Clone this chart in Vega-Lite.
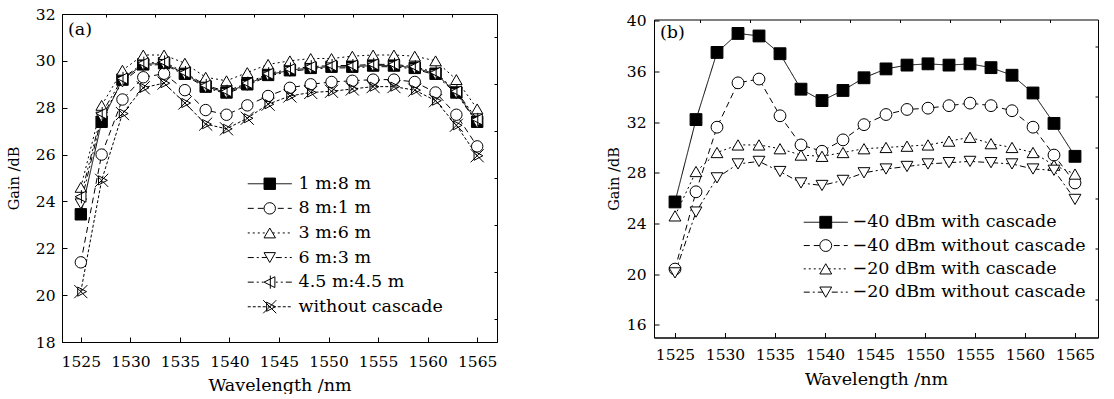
{
  "$schema": "https://vega.github.io/schema/vega-lite/v6.json",
  "padding": {"left": 5, "top": 6, "right": 5, "bottom": 0},
  "background": "white",
  "config": {
    "font": "DejaVu Serif",
    "view": {"stroke": "black", "strokeWidth": 1},
    "axis": {
      "labelFont": "DejaVu Serif", "labelFontSize": 15.5, "labelColor": "black",
      "titleFont": "DejaVu Serif", "titleFontWeight": "normal", "titleColor": "black",
      "domainColor": "black", "tickColor": "black", "grid": false,
      "tickSize": -5, "labelFlush": false, "labelOverlap": false
    },
    "legend": {
      "labelFont": "DejaVu Serif", "labelFontSize": 17.5, "labelColor": "black", "labelLimit": 400,
      "padding": 0, "symbolStrokeColor": "black", "symbolStrokeWidth": 1
    }
  },
  "datasets": {
    "a": [
      {"s":"1 m:8 m","i":1,"w":1525,"g":23.45},{"s":"1 m:8 m","i":1,"w":1527.1,"g":27.4},{"s":"1 m:8 m","i":1,"w":1529.2,"g":29.2},{"s":"1 m:8 m","i":1,"w":1531.3,"g":29.85},{"s":"1 m:8 m","i":1,"w":1533.4,"g":29.9},{"s":"1 m:8 m","i":1,"w":1535.5,"g":29.45},{"s":"1 m:8 m","i":1,"w":1537.6,"g":28.9},{"s":"1 m:8 m","i":1,"w":1539.7,"g":28.65},{"s":"1 m:8 m","i":1,"w":1541.8,"g":29.0},{"s":"1 m:8 m","i":1,"w":1543.9,"g":29.4},{"s":"1 m:8 m","i":1,"w":1546.1,"g":29.6},{"s":"1 m:8 m","i":1,"w":1548.2,"g":29.7},{"s":"1 m:8 m","i":1,"w":1550.3,"g":29.75},{"s":"1 m:8 m","i":1,"w":1552.4,"g":29.75},{"s":"1 m:8 m","i":1,"w":1554.5,"g":29.8},{"s":"1 m:8 m","i":1,"w":1556.6,"g":29.8},{"s":"1 m:8 m","i":1,"w":1558.7,"g":29.7},{"s":"1 m:8 m","i":1,"w":1560.8,"g":29.45},{"s":"1 m:8 m","i":1,"w":1562.9,"g":28.65},{"s":"1 m:8 m","i":1,"w":1565,"g":27.4},
      {"s":"8 m:1 m","i":2,"w":1525,"g":21.4},{"s":"8 m:1 m","i":2,"w":1527.1,"g":26.0},{"s":"8 m:1 m","i":2,"w":1529.2,"g":28.35},{"s":"8 m:1 m","i":2,"w":1531.3,"g":29.3},{"s":"8 m:1 m","i":2,"w":1533.4,"g":29.45},{"s":"8 m:1 m","i":2,"w":1535.5,"g":28.75},{"s":"8 m:1 m","i":2,"w":1537.6,"g":27.9},{"s":"8 m:1 m","i":2,"w":1539.7,"g":27.7},{"s":"8 m:1 m","i":2,"w":1541.8,"g":28.1},{"s":"8 m:1 m","i":2,"w":1543.9,"g":28.5},{"s":"8 m:1 m","i":2,"w":1546.1,"g":28.85},{"s":"8 m:1 m","i":2,"w":1548.2,"g":29.0},{"s":"8 m:1 m","i":2,"w":1550.3,"g":29.1},{"s":"8 m:1 m","i":2,"w":1552.4,"g":29.15},{"s":"8 m:1 m","i":2,"w":1554.5,"g":29.2},{"s":"8 m:1 m","i":2,"w":1556.6,"g":29.2},{"s":"8 m:1 m","i":2,"w":1558.7,"g":29.1},{"s":"8 m:1 m","i":2,"w":1560.8,"g":28.65},{"s":"8 m:1 m","i":2,"w":1562.9,"g":27.7},{"s":"8 m:1 m","i":2,"w":1565,"g":26.35},
      {"s":"3 m:6 m","i":3,"w":1525,"g":24.6},{"s":"3 m:6 m","i":3,"w":1527.1,"g":28.1},{"s":"3 m:6 m","i":3,"w":1529.2,"g":29.6},{"s":"3 m:6 m","i":3,"w":1531.3,"g":30.25},{"s":"3 m:6 m","i":3,"w":1533.4,"g":30.25},{"s":"3 m:6 m","i":3,"w":1535.5,"g":29.9},{"s":"3 m:6 m","i":3,"w":1537.6,"g":29.3},{"s":"3 m:6 m","i":3,"w":1539.7,"g":29.15},{"s":"3 m:6 m","i":3,"w":1541.8,"g":29.5},{"s":"3 m:6 m","i":3,"w":1543.9,"g":29.85},{"s":"3 m:6 m","i":3,"w":1546.1,"g":30.0},{"s":"3 m:6 m","i":3,"w":1548.2,"g":30.1},{"s":"3 m:6 m","i":3,"w":1550.3,"g":30.1},{"s":"3 m:6 m","i":3,"w":1552.4,"g":30.2},{"s":"3 m:6 m","i":3,"w":1554.5,"g":30.25},{"s":"3 m:6 m","i":3,"w":1556.6,"g":30.25},{"s":"3 m:6 m","i":3,"w":1558.7,"g":30.2},{"s":"3 m:6 m","i":3,"w":1560.8,"g":30.0},{"s":"3 m:6 m","i":3,"w":1562.9,"g":29.2},{"s":"3 m:6 m","i":3,"w":1565,"g":27.95},
      {"s":"6 m:3 m","i":4,"w":1525,"g":23.9},{"s":"6 m:3 m","i":4,"w":1527.1,"g":27.6},{"s":"6 m:3 m","i":4,"w":1529.2,"g":29.1},{"s":"6 m:3 m","i":4,"w":1531.3,"g":29.8},{"s":"6 m:3 m","i":4,"w":1533.4,"g":29.85},{"s":"6 m:3 m","i":4,"w":1535.5,"g":29.4},{"s":"6 m:3 m","i":4,"w":1537.6,"g":28.85},{"s":"6 m:3 m","i":4,"w":1539.7,"g":28.6},{"s":"6 m:3 m","i":4,"w":1541.8,"g":28.95},{"s":"6 m:3 m","i":4,"w":1543.9,"g":29.35},{"s":"6 m:3 m","i":4,"w":1546.1,"g":29.55},{"s":"6 m:3 m","i":4,"w":1548.2,"g":29.65},{"s":"6 m:3 m","i":4,"w":1550.3,"g":29.7},{"s":"6 m:3 m","i":4,"w":1552.4,"g":29.7},{"s":"6 m:3 m","i":4,"w":1554.5,"g":29.75},{"s":"6 m:3 m","i":4,"w":1556.6,"g":29.75},{"s":"6 m:3 m","i":4,"w":1558.7,"g":29.65},{"s":"6 m:3 m","i":4,"w":1560.8,"g":29.4},{"s":"6 m:3 m","i":4,"w":1562.9,"g":28.6},{"s":"6 m:3 m","i":4,"w":1565,"g":27.35},
      {"s":"4.5 m:4.5 m","i":5,"w":1525,"g":24.2},{"s":"4.5 m:4.5 m","i":5,"w":1527.1,"g":27.75},{"s":"4.5 m:4.5 m","i":5,"w":1529.2,"g":29.25},{"s":"4.5 m:4.5 m","i":5,"w":1531.3,"g":29.9},{"s":"4.5 m:4.5 m","i":5,"w":1533.4,"g":29.95},{"s":"4.5 m:4.5 m","i":5,"w":1535.5,"g":29.5},{"s":"4.5 m:4.5 m","i":5,"w":1537.6,"g":28.95},{"s":"4.5 m:4.5 m","i":5,"w":1539.7,"g":28.7},{"s":"4.5 m:4.5 m","i":5,"w":1541.8,"g":29.05},{"s":"4.5 m:4.5 m","i":5,"w":1543.9,"g":29.45},{"s":"4.5 m:4.5 m","i":5,"w":1546.1,"g":29.65},{"s":"4.5 m:4.5 m","i":5,"w":1548.2,"g":29.75},{"s":"4.5 m:4.5 m","i":5,"w":1550.3,"g":29.8},{"s":"4.5 m:4.5 m","i":5,"w":1552.4,"g":29.8},{"s":"4.5 m:4.5 m","i":5,"w":1554.5,"g":29.85},{"s":"4.5 m:4.5 m","i":5,"w":1556.6,"g":29.85},{"s":"4.5 m:4.5 m","i":5,"w":1558.7,"g":29.75},{"s":"4.5 m:4.5 m","i":5,"w":1560.8,"g":29.5},{"s":"4.5 m:4.5 m","i":5,"w":1562.9,"g":28.7},{"s":"4.5 m:4.5 m","i":5,"w":1565,"g":27.5},
      {"s":"without cascade","i":6,"w":1525,"g":20.15},{"s":"without cascade","i":6,"w":1527.1,"g":24.9},{"s":"without cascade","i":6,"w":1529.2,"g":27.75},{"s":"without cascade","i":6,"w":1531.3,"g":28.85},{"s":"without cascade","i":6,"w":1533.4,"g":29.05},{"s":"without cascade","i":6,"w":1535.5,"g":28.2},{"s":"without cascade","i":6,"w":1537.6,"g":27.3},{"s":"without cascade","i":6,"w":1539.7,"g":27.1},{"s":"without cascade","i":6,"w":1541.8,"g":27.55},{"s":"without cascade","i":6,"w":1543.9,"g":28.15},{"s":"without cascade","i":6,"w":1546.1,"g":28.5},{"s":"without cascade","i":6,"w":1548.2,"g":28.65},{"s":"without cascade","i":6,"w":1550.3,"g":28.7},{"s":"without cascade","i":6,"w":1552.4,"g":28.8},{"s":"without cascade","i":6,"w":1554.5,"g":28.9},{"s":"without cascade","i":6,"w":1556.6,"g":28.9},{"s":"without cascade","i":6,"w":1558.7,"g":28.75},{"s":"without cascade","i":6,"w":1560.8,"g":28.3},{"s":"without cascade","i":6,"w":1562.9,"g":27.25},{"s":"without cascade","i":6,"w":1565,"g":25.95}
    ],
    "b": [
      {"s":"−40 dBm with cascade","i":1,"w":1525,"g":25.7},{"s":"−40 dBm with cascade","i":1,"w":1527.1,"g":32.2},{"s":"−40 dBm with cascade","i":1,"w":1529.2,"g":37.5},{"s":"−40 dBm with cascade","i":1,"w":1531.3,"g":39.0},{"s":"−40 dBm with cascade","i":1,"w":1533.4,"g":38.8},{"s":"−40 dBm with cascade","i":1,"w":1535.5,"g":37.4},{"s":"−40 dBm with cascade","i":1,"w":1537.6,"g":34.6},{"s":"−40 dBm with cascade","i":1,"w":1539.7,"g":33.7},{"s":"−40 dBm with cascade","i":1,"w":1541.8,"g":34.5},{"s":"−40 dBm with cascade","i":1,"w":1543.9,"g":35.5},{"s":"−40 dBm with cascade","i":1,"w":1546.1,"g":36.2},{"s":"−40 dBm with cascade","i":1,"w":1548.2,"g":36.5},{"s":"−40 dBm with cascade","i":1,"w":1550.3,"g":36.6},{"s":"−40 dBm with cascade","i":1,"w":1552.4,"g":36.5},{"s":"−40 dBm with cascade","i":1,"w":1554.5,"g":36.6},{"s":"−40 dBm with cascade","i":1,"w":1556.6,"g":36.3},{"s":"−40 dBm with cascade","i":1,"w":1558.7,"g":35.7},{"s":"−40 dBm with cascade","i":1,"w":1560.8,"g":34.3},{"s":"−40 dBm with cascade","i":1,"w":1562.9,"g":31.9},{"s":"−40 dBm with cascade","i":1,"w":1565,"g":29.3},
      {"s":"−40 dBm without cascade","i":2,"w":1525,"g":20.4},{"s":"−40 dBm without cascade","i":2,"w":1527.1,"g":26.5},{"s":"−40 dBm without cascade","i":2,"w":1529.2,"g":31.6},{"s":"−40 dBm without cascade","i":2,"w":1531.3,"g":35.1},{"s":"−40 dBm without cascade","i":2,"w":1533.4,"g":35.4},{"s":"−40 dBm without cascade","i":2,"w":1535.5,"g":32.5},{"s":"−40 dBm without cascade","i":2,"w":1537.6,"g":30.2},{"s":"−40 dBm without cascade","i":2,"w":1539.7,"g":29.7},{"s":"−40 dBm without cascade","i":2,"w":1541.8,"g":30.6},{"s":"−40 dBm without cascade","i":2,"w":1543.9,"g":31.8},{"s":"−40 dBm without cascade","i":2,"w":1546.1,"g":32.6},{"s":"−40 dBm without cascade","i":2,"w":1548.2,"g":33.0},{"s":"−40 dBm without cascade","i":2,"w":1550.3,"g":33.1},{"s":"−40 dBm without cascade","i":2,"w":1552.4,"g":33.3},{"s":"−40 dBm without cascade","i":2,"w":1554.5,"g":33.5},{"s":"−40 dBm without cascade","i":2,"w":1556.6,"g":33.3},{"s":"−40 dBm without cascade","i":2,"w":1558.7,"g":32.9},{"s":"−40 dBm without cascade","i":2,"w":1560.8,"g":31.6},{"s":"−40 dBm without cascade","i":2,"w":1562.9,"g":29.4},{"s":"−40 dBm without cascade","i":2,"w":1565,"g":27.2},
      {"s":"−20 dBm with cascade","i":3,"w":1525,"g":24.6},{"s":"−20 dBm with cascade","i":3,"w":1527.1,"g":28.1},{"s":"−20 dBm with cascade","i":3,"w":1529.2,"g":29.6},{"s":"−20 dBm with cascade","i":3,"w":1531.3,"g":30.2},{"s":"−20 dBm with cascade","i":3,"w":1533.4,"g":30.2},{"s":"−20 dBm with cascade","i":3,"w":1535.5,"g":29.9},{"s":"−20 dBm with cascade","i":3,"w":1537.6,"g":29.4},{"s":"−20 dBm with cascade","i":3,"w":1539.7,"g":29.3},{"s":"−20 dBm with cascade","i":3,"w":1541.8,"g":29.6},{"s":"−20 dBm with cascade","i":3,"w":1543.9,"g":29.9},{"s":"−20 dBm with cascade","i":3,"w":1546.1,"g":30.0},{"s":"−20 dBm with cascade","i":3,"w":1548.2,"g":30.1},{"s":"−20 dBm with cascade","i":3,"w":1550.3,"g":30.2},{"s":"−20 dBm with cascade","i":3,"w":1552.4,"g":30.5},{"s":"−20 dBm with cascade","i":3,"w":1554.5,"g":30.8},{"s":"−20 dBm with cascade","i":3,"w":1556.6,"g":30.3},{"s":"−20 dBm with cascade","i":3,"w":1558.7,"g":30.0},{"s":"−20 dBm with cascade","i":3,"w":1560.8,"g":29.6},{"s":"−20 dBm with cascade","i":3,"w":1562.9,"g":28.6},{"s":"−20 dBm with cascade","i":3,"w":1565,"g":27.9},
      {"s":"−20 dBm without cascade","i":4,"w":1525,"g":20.1},{"s":"−20 dBm without cascade","i":4,"w":1527.1,"g":24.9},{"s":"−20 dBm without cascade","i":4,"w":1529.2,"g":27.6},{"s":"−20 dBm without cascade","i":4,"w":1531.3,"g":28.7},{"s":"−20 dBm without cascade","i":4,"w":1533.4,"g":28.9},{"s":"−20 dBm without cascade","i":4,"w":1535.5,"g":28.1},{"s":"−20 dBm without cascade","i":4,"w":1537.6,"g":27.2},{"s":"−20 dBm without cascade","i":4,"w":1539.7,"g":27.0},{"s":"−20 dBm without cascade","i":4,"w":1541.8,"g":27.4},{"s":"−20 dBm without cascade","i":4,"w":1543.9,"g":28.0},{"s":"−20 dBm without cascade","i":4,"w":1546.1,"g":28.3},{"s":"−20 dBm without cascade","i":4,"w":1548.2,"g":28.5},{"s":"−20 dBm without cascade","i":4,"w":1550.3,"g":28.7},{"s":"−20 dBm without cascade","i":4,"w":1552.4,"g":28.8},{"s":"−20 dBm without cascade","i":4,"w":1554.5,"g":28.9},{"s":"−20 dBm without cascade","i":4,"w":1556.6,"g":28.8},{"s":"−20 dBm without cascade","i":4,"w":1558.7,"g":28.7},{"s":"−20 dBm without cascade","i":4,"w":1560.8,"g":28.3},{"s":"−20 dBm without cascade","i":4,"w":1562.9,"g":28.2},{"s":"−20 dBm without cascade","i":4,"w":1565,"g":25.9}
    ]
  },
  "spacing": 107,
  "center": true,
  "resolve": {
    "scale": {"strokeDash": "independent", "shape": "independent", "fill": "independent"},
    "legend": {"strokeDash": "independent", "shape": "independent", "fill": "independent"}
  },
  "hconcat": [
    {
      "width": 435, "height": 328,
      "data": {"name": "a"},
      "title": {"text": "(a)", "orient": "top", "anchor": "start", "frame": "group", "offset": -45, "dx": 6, "baseline": "alphabetic", "font": "DejaVu Serif", "fontSize": 17.5, "fontWeight": "normal", "color": "black"},
      "layer": [
        {
          "mark": {"type": "line", "color": "black", "strokeWidth": 1},
          "encoding": {
            "x": {"field": "w", "type": "quantitative", "scale": {"domain": [1523.1, 1567], "nice": false, "zero": false},
                  "axis": {"values": [1525,1530,1535,1540,1545,1550,1555,1560,1565], "format": "d", "labelPadding": 17, "title": "Wavelength /nm", "titleFontSize": 17.5, "titleY": 34, "titleBaseline": "top"}},
            "y": {"field": "g", "type": "quantitative", "scale": {"domain": [18, 32], "nice": false, "zero": false},
                  "axis": {"values": [18,20,22,24,26,28,30,32], "labelPadding": 12, "title": "Gain /dB", "titleFontSize": 14.5, "titlePadding": 14}},
            "strokeDash": {"field": "s", "type": "nominal",
              "scale": {"domain": ["1 m:8 m","8 m:1 m","3 m:6 m","6 m:3 m","4.5 m:4.5 m","without cascade"],
                        "range": [[1,0],[6,4],[2,3],[6,3,2,3],[6,3,2,3,2,3],[3,2]]},
              "legend": {"title": null, "orient": "none", "legendX": 199, "legendY": 161, "rowPadding": 5.6, "symbolType": "M-4,0H4", "symbolSize": 121, "symbolOffset": 0, "labelOffset": 20, "zindex": 0, "symbolFillColor": "transparent"}}
          }
        },
        {
          "mark": {"type": "point", "filled": true, "stroke": "black", "strokeWidth": 1, "opacity": 1, "size": 130},
          "encoding": {
            "x": {"field": "w", "type": "quantitative",
                  "axis": {"values": [1527.5,1532.5,1537.5,1542.5,1547.5,1552.5,1557.5,1562.5], "labels": false, "domain": false, "tickSize": -3, "title": null}},
            "y": {"field": "g", "type": "quantitative",
                  "axis": {"values": [19,21,23,25,27,29,31], "labels": false, "domain": false, "tickSize": -3, "title": null}},
            "shape": {"field": "s", "type": "nominal", "sort": {"field": "i", "op": "min"},
              "scale": {"range": ["square","circle","triangle-up","triangle-down","M-1,0L0.9,-0.95L0.9,0.95Z M0.1,-1.15L0.1,1.15","M-1.15,-1.15L1.15,1.15M-1.15,1.15L1.15,-1.15M-0.55,-0.8L1,0L-0.55,0.8Z"]},
              "legend": {"title": null, "orient": "none", "legendX": 199, "legendY": 161, "rowPadding": 5.6, "symbolSize": 130, "symbolOffset": 0, "labelOffset": 20, "labelOpacity": 0, "zindex": 1,
                         "symbolStrokeColor": "black", "symbolStrokeWidth": 1,
                         "encoding": {"symbols": {"stroke": {"value": "black"}, "strokeWidth": {"value": 1}, "opacity": {"value": 1}}}}},
            "fill": {"field": "s", "type": "nominal", "sort": {"field": "i", "op": "min"},
              "scale": {"range": ["black","white","white","white","white","transparent"]},
              "legend": {"title": null, "orient": "none", "legendX": 199, "legendY": 161, "rowPadding": 5.6, "symbolSize": 130, "symbolOffset": 0, "labelOffset": 20, "labelOpacity": 0, "zindex": 1,
                         "symbolStrokeColor": "black", "symbolStrokeWidth": 1,
                         "encoding": {"symbols": {"stroke": {"value": "black"}, "strokeWidth": {"value": 1}, "opacity": {"value": 1}}}}}
          }
        }
      ],
      "resolve": {"axis": {"x": "independent", "y": "independent"}}
    },
    {
      "width": 444, "height": 318,
      "data": {"name": "b"},
      "title": {"text": "(b)", "orient": "top", "anchor": "start", "frame": "group", "offset": -42, "dx": 6, "baseline": "alphabetic", "font": "DejaVu Serif", "fontSize": 17.5, "fontWeight": "normal", "color": "black"},
      "layer": [
        {
          "mark": {"type": "line", "color": "black", "strokeWidth": 1},
          "encoding": {
            "x": {"field": "w", "type": "quantitative", "scale": {"domain": [1522.9, 1567.3], "nice": false, "zero": false},
                  "axis": {"values": [1525,1530,1535,1540,1545,1550,1555,1560,1565], "format": "d", "labelPadding": 15, "title": "Wavelength /nm", "titleFontSize": 17.5, "titleY": 33, "titleBaseline": "top"}},
            "y": {"field": "g", "type": "quantitative", "scale": {"domain": [15, 40.1], "nice": false, "zero": false},
                  "axis": {"values": [16,20,24,28,32,36,40], "labelPadding": 13, "title": "Gain /dB", "titleFontSize": 14.5, "titlePadding": 5}},
            "strokeDash": {"field": "s", "type": "nominal",
              "scale": {"domain": ["−40 dBm with cascade","−40 dBm without cascade","−20 dBm with cascade","−20 dBm without cascade"],
                        "range": [[1,0],[6,4],[2,3],[6,3,2,3]]},
              "legend": {"title": null, "orient": "none", "legendX": 163, "legendY": 194, "rowPadding": 4.3, "symbolType": "M-4,0H4", "symbolSize": 121, "symbolOffset": 0, "labelOffset": 18, "zindex": 0, "symbolFillColor": "transparent"}}
          }
        },
        {
          "mark": {"type": "point", "filled": true, "stroke": "black", "strokeWidth": 1, "opacity": 1, "size": 140},
          "encoding": {
            "x": {"field": "w", "type": "quantitative",
                  "axis": {"values": [1527.5,1532.5,1537.5,1542.5,1547.5,1552.5,1557.5,1562.5], "labels": false, "domain": false, "tickSize": -3, "title": null}},
            "y": {"field": "g", "type": "quantitative",
                  "axis": {"values": [18,22,26,30,34,38], "labels": false, "domain": false, "tickSize": -3, "title": null}},
            "shape": {"field": "s", "type": "nominal", "sort": {"field": "i", "op": "min"},
              "scale": {"range": ["square","circle","triangle-up","triangle-down"]},
              "legend": {"title": null, "orient": "none", "legendX": 163, "legendY": 194, "rowPadding": 4.3, "symbolSize": 140, "symbolOffset": 0, "labelOffset": 18, "labelOpacity": 0, "zindex": 1,
                         "symbolStrokeColor": "black", "symbolStrokeWidth": 1,
                         "encoding": {"symbols": {"stroke": {"value": "black"}, "strokeWidth": {"value": 1}, "opacity": {"value": 1}}}}},
            "fill": {"field": "s", "type": "nominal", "sort": {"field": "i", "op": "min"},
              "scale": {"range": ["black","white","white","white"]},
              "legend": {"title": null, "orient": "none", "legendX": 163, "legendY": 194, "rowPadding": 4.3, "symbolSize": 140, "symbolOffset": 0, "labelOffset": 18, "labelOpacity": 0, "zindex": 1,
                         "symbolStrokeColor": "black", "symbolStrokeWidth": 1,
                         "encoding": {"symbols": {"stroke": {"value": "black"}, "strokeWidth": {"value": 1}, "opacity": {"value": 1}}}}}
          }
        }
      ],
      "resolve": {"axis": {"x": "independent", "y": "independent"}}
    }
  ]
}
